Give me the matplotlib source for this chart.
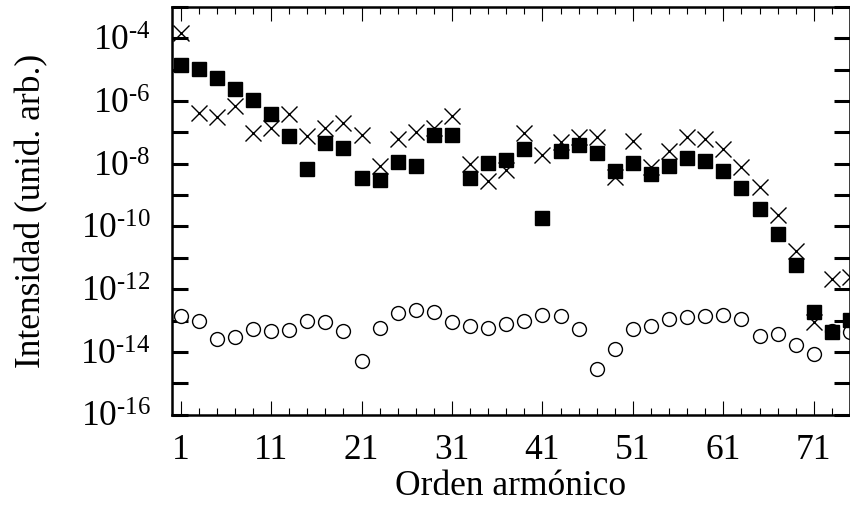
import numpy as np
import matplotlib
matplotlib.use("Agg")
import matplotlib.pyplot as plt

plt.rcParams['font.family'] = ['Liberation Serif', 'DejaVu Serif']
plt.rcParams['mathtext.fontset'] = 'custom'
plt.rcParams['mathtext.rm'] = 'Liberation Serif'
plt.rcParams['mathtext.it'] = 'Liberation Serif:italic'

# armonicos impares 1..75
orden = np.arange(1, 76, 2)

# log10 de la intensidad
log_cruces = [-3.84, -6.39, -6.52, -6.16, -7.03, -6.87, -6.41, -7.12, -6.87, -6.71,
              -7.08, -8.07, -7.21, -6.98, -6.85, -6.49, -8.02, -8.55, -8.20, -7.01,
              -7.72, -7.30, -7.15, -7.15, -8.41, -7.27, -8.11, -7.59, -7.14, -7.21,
              -7.54, -8.09, -8.75, -9.64, -10.78, -13.06, -11.69, -11.60]
log_cuadrados = [-4.84, -4.99, -5.27, -5.60, -5.95, -6.40, -7.11, -8.18, -7.35, -7.49,
                 -8.45, -8.52, -7.93, -8.07, -7.08, -7.08, -8.45, -7.96, -7.89, -7.53,
                 -9.72, -7.59, -7.40, -7.67, -8.24, -7.99, -8.31, -8.07, -7.80, -7.91,
                 -8.23, -8.77, -9.44, -10.24, -11.24, -12.72, -13.36, -12.99]
log_circulos = [-12.86, -13.01, -13.60, -13.52, -13.26, -13.33, -13.30, -13.02, -13.05, -13.33,
                -14.29, -13.25, -12.75, -12.67, -12.72, -13.06, -13.17, -13.25, -13.12, -13.02,
                -12.83, -12.85, -13.28, -14.54, -13.91, -13.28, -13.18, -12.96, -12.88, -12.86,
                -12.83, -12.95, -13.49, -13.43, -13.78, -14.07, -13.35, -13.36]

cruces = 10.0 ** np.array(log_cruces)
cuadrados = 10.0 ** np.array(log_cuadrados)
circulos = 10.0 ** np.array(log_circulos)

exponentes = np.arange(-16, -2)
etiquetas_y = [r'$\mathregular{10^{\text{-}%d}}$' % -e if e % 2 == 0 and e <= -4 else '' for e in exponentes]

fig = plt.figure(figsize=(8.5, 5.08), dpi=100)
ax = fig.add_axes([0.2019, 0.184, 0.7981, 0.802])

ax.plot(orden, cruces, 'x', color='black', ms=11, mew=1.0)
ax.plot(orden, circulos, 'o', mfc='white', mec='black', ms=10, mew=1.0)
ax.plot(orden, cuadrados, 's', color='black', ms=10.5)

ax.set_yscale('log')
ax.set_xlim(0, 75)
ax.set_ylim(1e-16, 1e-3)

ax.set_yticks(10.0 ** exponentes)
ax.set_yticklabels(etiquetas_y)
ax.yaxis.set_minor_locator(matplotlib.ticker.NullLocator())
ax.set_xticks(np.arange(1, 76, 10))
ax.set_xticks(np.arange(1, 76, 2), minor=True)

ax.tick_params(axis='y', which='major', direction='in', length=11.5, width=2.2,
               left=True, right=True, labelsize=25.5, pad=15)
ax.tick_params(axis='x', which='major', direction='in', length=10, width=0.8,
               top=True, bottom=True, labelsize=25.5, pad=14)
ax.tick_params(axis='x', which='minor', direction='in', length=5, width=0.8,
               top=True, bottom=True)

for s in ax.spines.values():
    s.set_linewidth(1.8)

ax.set_xlabel('Orden armónico', fontsize=25.5, labelpad=2)
ax.set_ylabel('Intensidad (unid. arb.)', fontsize=25.5, labelpad=23)

fig.savefig('out.png', dpi=100)
